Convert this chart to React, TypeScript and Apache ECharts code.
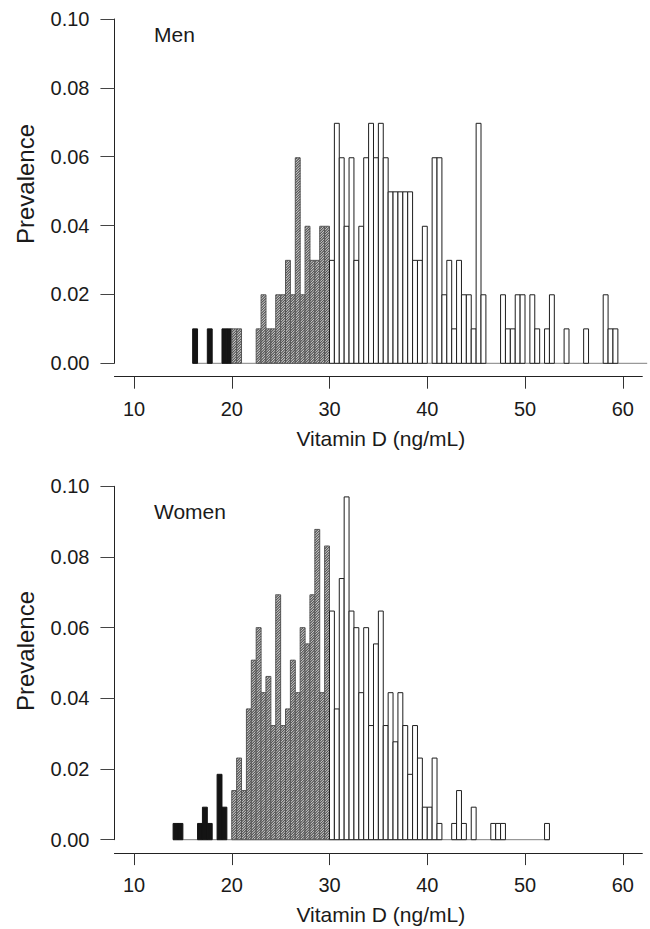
import React, { useEffect, useRef } from "react";
import * as echarts from "echarts";

// ---- data ----
const BIN_WIDTH = 0.5;

// Men: lower edge of each non-empty bin (ng/mL) and its prevalence
const MEN_BINS = [
  16.0, 17.5, 19.0, 19.5, 20.0, 20.5, 22.5, 23.0, 23.5, 24.0, 24.5, 25.0, 25.5, 26.0, 26.5, 27.0,
  27.5, 28.0, 28.5, 29.0, 29.5, 30.0, 30.5, 31.0, 31.5, 32.0, 32.5, 33.0, 33.5, 34.0, 34.5, 35.0,
  35.5, 36.0, 36.5, 37.0, 37.5, 38.0, 38.5, 39.0, 39.5, 40.5, 41.0, 41.5, 42.0, 42.5, 43.0, 43.5,
  44.0, 44.5, 45.0, 45.5, 47.5, 48.0, 48.5, 49.0, 49.5, 50.5, 51.0, 52.0, 52.5, 54.0, 56.0, 58.0,
  58.5, 59.0,
];
const MEN_PREV = [
  0.01, 0.01, 0.01, 0.01, 0.01, 0.01, 0.01, 0.0199, 0.01, 0.01, 0.0199, 0.0199, 0.0299, 0.0199, 0.0597, 0.0199,
  0.0398, 0.0299, 0.0299, 0.0398, 0.0398, 0.0299, 0.0697, 0.0597, 0.0398, 0.0597, 0.0299, 0.0398, 0.0597, 0.0697, 0.0597, 0.0697,
  0.0597, 0.0498, 0.0498, 0.0498, 0.0498, 0.0498, 0.0299, 0.0299, 0.0398, 0.0597, 0.0597, 0.0199, 0.0299, 0.01, 0.0299, 0.0199,
  0.0199, 0.01, 0.0697, 0.0199, 0.0199, 0.01, 0.01, 0.0199, 0.0199, 0.0199, 0.01, 0.01, 0.0199, 0.01, 0.01, 0.0199,
  0.01, 0.01,
];
const MEN_RANGE = [16.0, 62.5];

// Women
const WOMEN_BINS = [
  14.0, 14.5, 16.5, 17.0, 17.5, 18.5, 19.0, 20.0, 20.5, 21.0, 21.5, 22.0, 22.5, 23.0, 23.5, 24.0,
  24.5, 25.0, 25.5, 26.0, 26.5, 27.0, 27.5, 28.0, 28.5, 29.0, 29.5, 30.0, 30.5, 31.0, 31.5, 32.0,
  32.5, 33.0, 33.5, 34.0, 34.5, 35.0, 35.5, 36.0, 36.5, 37.0, 37.5, 38.0, 38.5, 39.0, 39.5, 40.0,
  40.5, 41.0, 42.5, 43.0, 43.5, 44.5, 46.5, 47.0, 47.5, 52.0,
];
const WOMEN_PREV = [
  0.0046, 0.0046, 0.0046, 0.0092, 0.0046, 0.0185, 0.0092, 0.0139, 0.0231, 0.0139, 0.037, 0.0508, 0.06, 0.0416, 0.0462, 0.0323,
  0.0693, 0.0323, 0.037, 0.0508, 0.0416, 0.06, 0.0554, 0.0693, 0.0878, 0.0416, 0.0831, 0.0647, 0.037, 0.0739, 0.097, 0.0647,
  0.06, 0.0416, 0.06, 0.0323, 0.0554, 0.0647, 0.0323, 0.0416, 0.0277, 0.0416, 0.0323, 0.0185, 0.0323, 0.0231, 0.0092, 0.0092,
  0.0231, 0.0046, 0.0046, 0.0139, 0.0046, 0.0092, 0.0046, 0.0046, 0.0046, 0.0046,
];
const WOMEN_RANGE = [14.0, 52.5];

const X_TICKS = [10, 20, 30, 40, 50, 60];
const X_MIN = 8;
const X_MAX = 62;
const Y_MIN = 0;
const Y_MAX = 0.1;
const Y_STEP = 0.02;

const FONT = '"Liberation Sans", Arial, Helvetica, sans-serif';
const INK = "#1a1a1a";

function hatchPath(x: number, y: number, w: number, h: number, s: number): string {
  let d = "";
  const kStart = Math.floor((x + y) / s);
  const kEnd = Math.ceil((x + w + y + h) / s);
  for (let k = kStart; k <= kEnd; k++) {
    const c = k * s;
    const lo = Math.max(x, c - (y + h));
    const hi = Math.min(x + w, c - y);
    if (hi - lo > 0.05) d += `M${lo.toFixed(2)} ${(c - lo).toFixed(2)}L${hi.toFixed(2)} ${(c - hi).toFixed(2)}`;
  }
  return d;
}

function renderBar(params: any, api: any) {
  const x0 = api.value(0);
  const v = api.value(1);
  const p0 = api.coord([x0, 0]);
  const p1 = api.coord([x0 + BIN_WIDTH, v]);
  const shape = { x: p0[0], y: p1[1], width: p1[0] - p0[0], height: p0[1] - p1[1] };
  if (x0 < 20) {
    return { type: "rect", shape, style: { fill: "#141414", stroke: "#141414", lineWidth: 1 } };
  }
  if (x0 < 30) {
    return {
      type: "group",
      children: [
        { type: "rect", shape, style: { fill: "#e2e2e2" } },
        {
          type: "path",
          shape: { pathData: hatchPath(shape.x, shape.y, shape.width, shape.height, 2.6) },
          style: { fill: "none", stroke: "#505050", lineWidth: 1.1 },
        },
        { type: "rect", shape, style: { fill: "none", stroke: "#555555", lineWidth: 1 } },
      ],
    };
  }
  return { type: "rect", shape, style: { fill: "#ffffff", stroke: "#1e1e1e", lineWidth: 1 } };
}

function renderBaseline(params: any, api: any) {
  const a = api.coord([api.value(0), 0]);
  const b = api.coord([api.value(1), 0]);
  return {
    type: "line",
    shape: { x1: a[0], y1: a[1], x2: b[0], y2: b[1] },
    style: { stroke: "#808080", lineWidth: 1 },
  };
}

function xAxisFor(gridIndex: number) {
  return {
    type: "value",
    gridIndex,
    min: X_MIN,
    max: X_MAX,
    position: "bottom",
    offset: 13.4,
    axisLine: { show: true, onZero: false, lineStyle: { color: "#222", width: 1 } },
    axisTick: { show: true, length: 12, customValues: X_TICKS, lineStyle: { color: "#333", width: 1 } },
    axisLabel: { customValues: X_TICKS, fontSize: 20, color: INK, fontFamily: FONT, margin: 22 },
    splitLine: { show: false },
  };
}

function yAxisFor(gridIndex: number) {
  return {
    type: "value",
    gridIndex,
    min: Y_MIN,
    max: Y_MAX,
    interval: Y_STEP,
    axisLine: { show: true, onZero: false, lineStyle: { color: "#222", width: 1 } },
    axisTick: { show: true, length: 14, lineStyle: { color: "#444", width: 1 } },
    axisLabel: {
      fontSize: 20,
      color: INK,
      fontFamily: FONT,
      margin: 25,
      formatter: (val: number) => val.toFixed(2),
    },
    splitLine: { show: false },
  };
}

function text(x: number, y: number, s: string, size: number, align: string, rotation = 0) {
  return {
    type: "text",
    x,
    y,
    rotation,
    style: {
      text: s,
      fill: INK,
      fontSize: size,
      fontFamily: FONT,
      textAlign: align,
      textVerticalAlign: "middle",
    },
  };
}

export default function App() {
  const ref = useRef<HTMLDivElement>(null);

  useEffect(() => {
    if (!ref.current) return;
    const chart = echarts.init(ref.current, null, { renderer: "svg" });
    const menData = MEN_BINS.map((b, i) => [b, MEN_PREV[i]]);
    const womenData = WOMEN_BINS.map((b, i) => [b, WOMEN_PREV[i]]);

    chart.setOption({
      animation: false,
      backgroundColor: "#ffffff",
      grid: [
        { left: 114.45, top: 19, width: 527.85, height: 344.3 },
        { left: 114.45, top: 486.3, width: 527.85, height: 353.4 },
      ],
      xAxis: [xAxisFor(0), xAxisFor(1)],
      yAxis: [yAxisFor(0), yAxisFor(1)],
      series: [
        { type: "custom", xAxisIndex: 0, yAxisIndex: 0, clip: false, z: 1, renderItem: renderBaseline, data: [MEN_RANGE] },
        { type: "custom", xAxisIndex: 0, yAxisIndex: 0, clip: false, z: 2, renderItem: renderBar, data: menData },
        { type: "custom", xAxisIndex: 1, yAxisIndex: 1, clip: false, z: 1, renderItem: renderBaseline, data: [WOMEN_RANGE] },
        { type: "custom", xAxisIndex: 1, yAxisIndex: 1, clip: false, z: 2, renderItem: renderBar, data: womenData },
      ],
      graphic: [
        text(154, 34.7, "Men", 21, "left"),
        text(154, 511.7, "Women", 21, "left"),
        text(25.8, 184, "Prevalence", 24, "center", Math.PI / 2),
        text(25.8, 651, "Prevalence", 24, "center", Math.PI / 2),
        text(380.8, 438.4, "Vitamin D (ng/mL)", 21, "center"),
        text(380.8, 914.7, "Vitamin D (ng/mL)", 21, "center"),
      ],
    });
    return () => chart.dispose();
  }, []);

  return (
    <div
      ref={ref}
      style={{ position: "absolute", left: 0, top: 0, width: 650, height: 929, background: "#fff" }}
    />
  );
}
